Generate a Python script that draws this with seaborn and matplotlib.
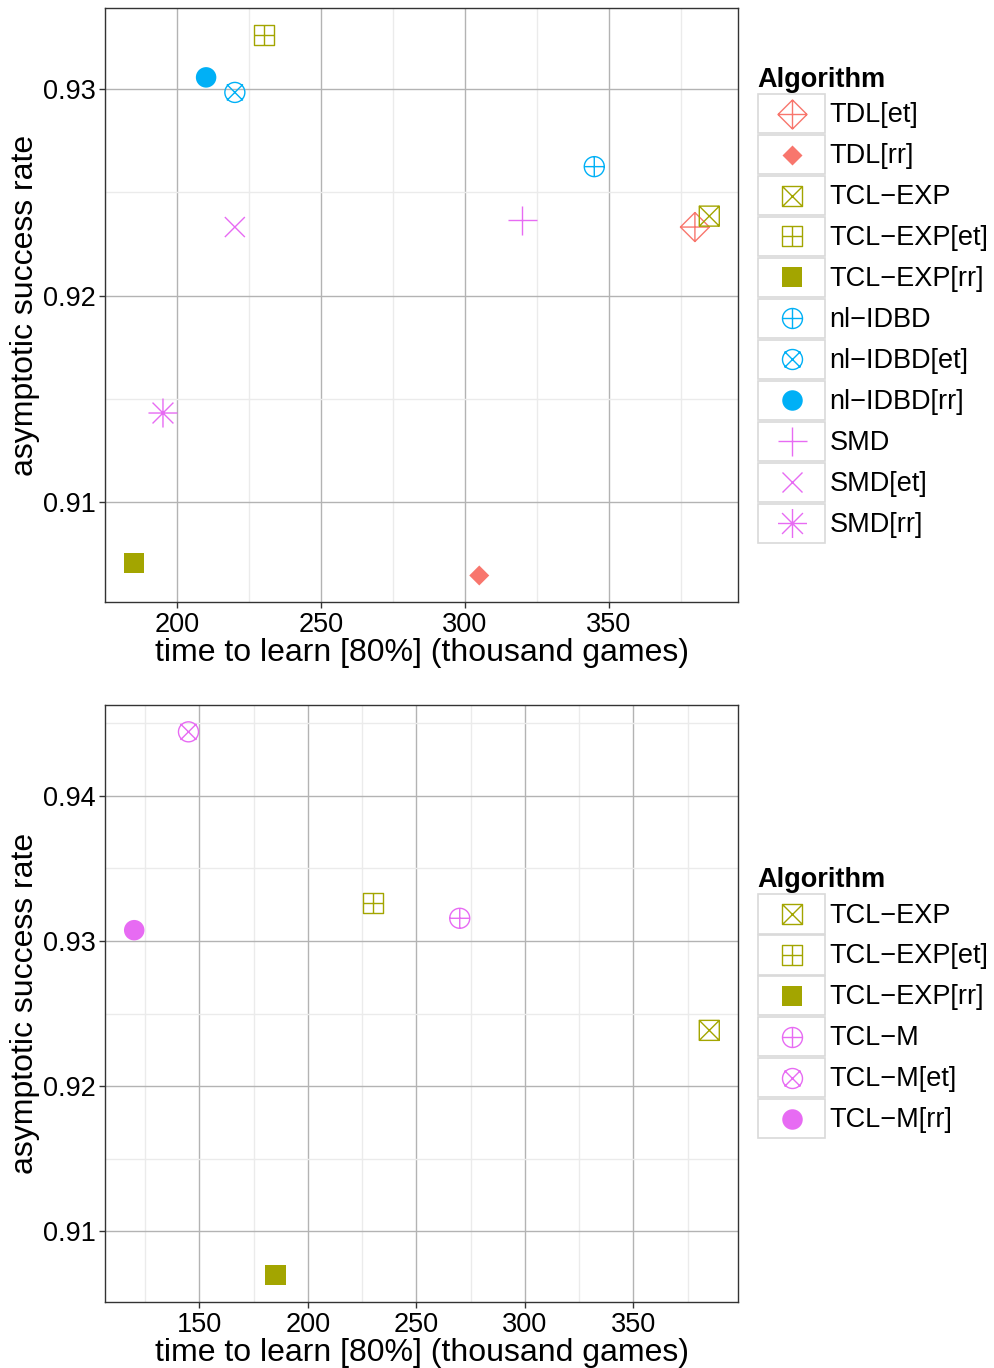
import numpy as np
import pandas as pd
import matplotlib
matplotlib.use("Agg")
import matplotlib.pyplot as plt
import seaborn as sns
from matplotlib.path import Path
from matplotlib.patches import Rectangle
from matplotlib.lines import Line2D
from matplotlib.legend_handler import HandlerBase
from matplotlib.ticker import MultipleLocator, FormatStrFormatter

# ---------------- data ----------------
top_algorithms = ["TDL[et]", "TDL[rr]", "TCL−EXP", "TCL−EXP[et]", "TCL−EXP[rr]",
                  "nl−IDBD", "nl−IDBD[et]", "nl−IDBD[rr]", "SMD", "SMD[et]", "SMD[rr]"]
top_time = [380, 305, 385, 230, 185, 345, 220, 210, 320, 220, 195]
top_rate = [0.92332, 0.90642, 0.92385, 0.93262, 0.90702, 0.92625, 0.92985, 0.93058,
            0.92364, 0.92332, 0.91430]

bottom_algorithms = ["TCL−EXP", "TCL−EXP[et]", "TCL−EXP[rr]", "TCL−M", "TCL−M[et]", "TCL−M[rr]"]
bottom_time = [385, 230, 185, 270, 145, 120]
bottom_rate = [0.92385, 0.93262, 0.90702, 0.93157, 0.94441, 0.93075]

x_label = "time to learn [80%] (thousand games)"
y_label = "asymptotic success rate"
legend_title = "Algorithm"

# ---------------- styles ----------------
sns.set_style("white")
plt.rcParams["font.family"] = ["Liberation Sans", "DejaVu Sans"]
plt.rcParams["text.color"] = "black"
plt.rcParams["axes.labelcolor"] = "black"

def seg_path(segments):
    verts, codes = [], []
    for a, b in segments:
        verts += [a, b]
        codes += [Path.MOVETO, Path.LINETO]
    return Path(verts, codes)

def poly_path(pts):
    verts = list(pts) + [pts[0]]
    codes = [Path.MOVETO] + [Path.LINETO] * (len(pts) - 1) + [Path.CLOSEPOLY]
    return Path(verts, codes)

SQ = poly_path([(-1, -1), (1, -1), (1, 1), (-1, 1)])
DIA = poly_path([(0, 1), (1, 0), (0, -1), (-1, 0)])
CIRC = Path.unit_circle()
PLUS = seg_path([((-1, 0), (1, 0)), ((0, -1), (0, 1))])
CROSS = seg_path([((-1, -1), (1, 1)), ((-1, 1), (1, -1))])
CROSS_C = seg_path([((-.8, -.8), (.8, .8)), ((-.8, .8), (.8, -.8))])
CROSS_A = seg_path([((-.72, -.72), (.72, .72)), ((-.72, .72), (.72, -.72))])

markers = {
    "diamond_plus": (Path.make_compound_path(DIA, PLUS), False, 29),
    "diamond": (DIA, True, 20),
    "square_cross": (Path.make_compound_path(SQ, CROSS), False, 20),
    "square_plus": (Path.make_compound_path(SQ, PLUS), False, 20),
    "square": (SQ, True, 20.5),
    "circle_plus": (Path.make_compound_path(CIRC, PLUS), False, 20),
    "circle_cross": (Path.make_compound_path(CIRC, CROSS_C), False, 20),
    "circle": (CIRC, True, 20.5),
    "plus": (PLUS, False, 29),
    "cross": (CROSS, False, 20),
    "asterisk": (Path.make_compound_path(PLUS, CROSS_A), False, 29),
}

C_TDL, C_TCL, C_IDBD, C_SMD = "#F8766D", "#A3A500", "#00B0F6", "#E76BF3"
style = {
    "TDL[et]": (C_TDL, "diamond_plus"),
    "TDL[rr]": (C_TDL, "diamond"),
    "TCL−EXP": (C_TCL, "square_cross"),
    "TCL−EXP[et]": (C_TCL, "square_plus"),
    "TCL−EXP[rr]": (C_TCL, "square"),
    "nl−IDBD": (C_IDBD, "circle_plus"),
    "nl−IDBD[et]": (C_IDBD, "circle_cross"),
    "nl−IDBD[rr]": (C_IDBD, "circle"),
    "SMD": (C_SMD, "plus"),
    "SMD[et]": (C_SMD, "cross"),
    "SMD[rr]": (C_SMD, "asterisk"),
    "TCL−M": (C_SMD, "circle_plus"),
    "TCL−M[et]": (C_SMD, "circle_cross"),
    "TCL−M[rr]": (C_SMD, "circle"),
}
LW = 1.0
PX2PT = 0.72


class BoxedKeyHandler(HandlerBase):
    def create_artists(self, legend, orig_handle, xdescent, ydescent, width, height,
                       fontsize, trans):
        rect = Rectangle((-xdescent + 0.6, -ydescent + 0.6), width - 1.2, height - 1.2,
                         facecolor="white", edgecolor="#D9D9D9", linewidth=1.2,
                         transform=trans)
        mk = Line2D([width / 2 - xdescent], [height / 2 - ydescent], linestyle="none",
                    marker=orig_handle.get_marker(),
                    markersize=orig_handle.get_markersize(),
                    markerfacecolor=orig_handle.get_markerfacecolor(),
                    markeredgecolor=orig_handle.get_markeredgecolor(),
                    markeredgewidth=orig_handle.get_markeredgewidth(),
                    transform=trans)
        return [rect, mk]


def draw_panel(ax, algorithms, times, rates):
    df = pd.DataFrame({"Algorithm": algorithms, "time": times, "rate": rates})
    handles = []
    for alg in algorithms:
        sub = df[df["Algorithm"] == alg]
        color, mname = style[alg]
        path, filled, px = markers[mname]
        size_pt = px * PX2PT
        if filled:
            sns.scatterplot(data=sub, x="time", y="rate", ax=ax, marker=path,
                            s=size_pt ** 2, facecolor=color, edgecolor="none",
                            linewidth=0, zorder=3, legend=False)
        else:
            sns.scatterplot(data=sub, x="time", y="rate", ax=ax, marker=path,
                            s=size_pt ** 2, facecolor="none", edgecolor=color,
                            linewidth=LW, zorder=3, legend=False)
        handles.append(Line2D([], [], linestyle="none", marker=path, markersize=size_pt,
                              markerfacecolor=color if filled else "none",
                              markeredgecolor=color if not filled else "none",
                              markeredgewidth=LW if not filled else 0, label=alg))

    # ggplot-like 5% expansion
    xmin, xmax = min(times), max(times)
    ymin, ymax = min(rates), max(rates)
    dx, dy = 0.05 * (xmax - xmin), 0.05 * (ymax - ymin)
    ax.set_xlim(xmin - dx, xmax + dx)
    ax.set_ylim(ymin - dy, ymax + dy)

    ax.xaxis.set_major_locator(MultipleLocator(50))
    ax.xaxis.set_minor_locator(MultipleLocator(25))
    ax.yaxis.set_major_locator(MultipleLocator(0.01))
    ax.yaxis.set_minor_locator(MultipleLocator(0.005))
    ax.yaxis.set_major_formatter(FormatStrFormatter("%.2f"))
    ax.xaxis.set_major_formatter(FormatStrFormatter("%d"))

    ax.set_axisbelow(True)
    ax.grid(which="major", color="#B3B3B3", linewidth=1.0)
    ax.grid(which="minor", color="#EBEBEB", linewidth=1.0)
    for sp in ax.spines.values():
        sp.set_visible(True)
        sp.set_color("#333333")
        sp.set_linewidth(1.0)
    ax.tick_params(which="major", direction="out", length=4, width=1.0, color="#333333",
                   labelsize=19.5, labelcolor="black", pad=3,
                   bottom=True, left=True)
    ax.tick_params(which="minor", length=0)
    ax.set_xlabel(x_label, fontsize=23, labelpad=0, color="black")
    ax.set_ylabel(y_label, fontsize=23, labelpad=2, color="black")

    leg = ax.legend(handles=handles, loc="center left", bbox_to_anchor=(1.03, 0.5),
                    frameon=False, title=legend_title,
                    title_fontproperties={"weight": "bold", "size": 19.5},
                    fontsize=19.5, alignment="left", handler_map={Line2D: BoxedKeyHandler()},
                    handlelength=2.55, handleheight=1.95, labelspacing=0.0,
                    handletextpad=0.12, borderpad=0.0, borderaxespad=0.0,
                    labelcolor="black")
    leg.get_title().set_color("black")
    return leg


fig = plt.figure(figsize=(9.94, 13.68), dpi=100)
ax1 = fig.add_axes([0.1061, 0.55958, 0.7425 - 0.1061, 0.99393 - 0.55958])
ax2 = fig.add_axes([0.1061, 0.04832, 0.7425 - 0.1061, 0.48487 - 0.04832])

draw_panel(ax1, top_algorithms, top_time, top_rate)
draw_panel(ax2, bottom_algorithms, bottom_time, bottom_rate)

fig.savefig("out.png", dpi=100)
